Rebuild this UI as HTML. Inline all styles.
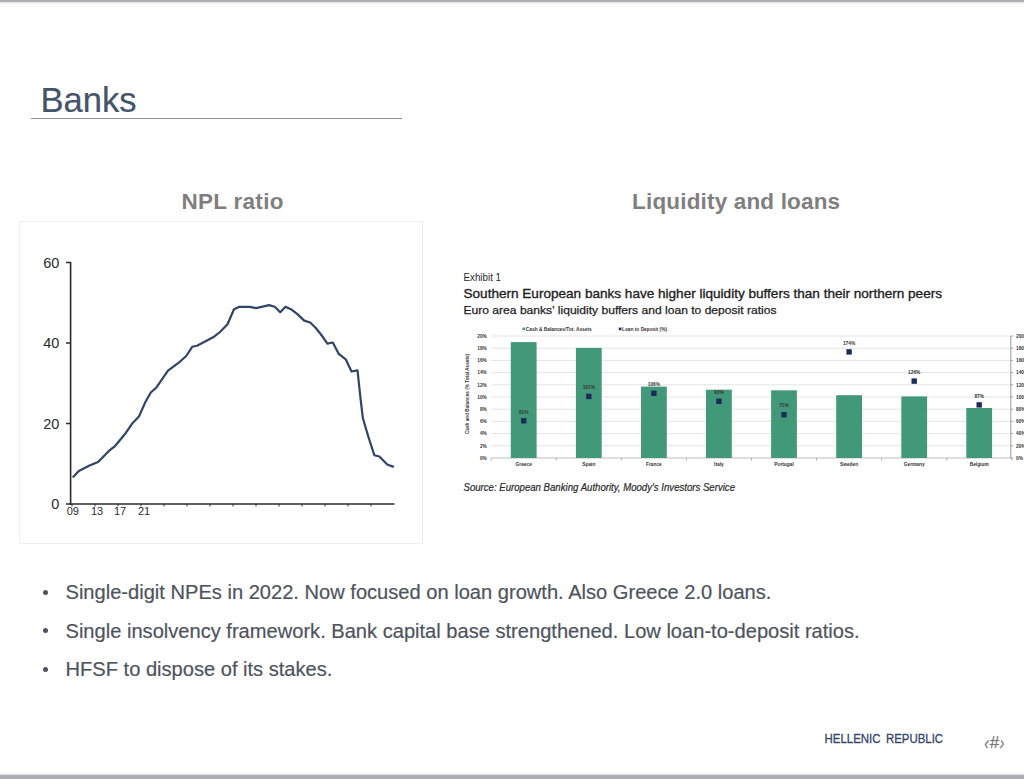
<!DOCTYPE html>
<html lang="en">
<head>
<meta charset="utf-8">
<title>Banks</title>
<style>
  html, body { margin: 0; padding: 0; }
  body {
    width: 1024px; height: 779px; overflow: hidden; position: relative;
    background: #ffffff;
    font-family: "Liberation Sans", sans-serif;
  }
  .abs { position: absolute; white-space: nowrap; }
  .topbar { left: 0; top: 0; width: 1024px; height: 4px; background: linear-gradient(#adaeb3 0, #aeafb4 35%, #e4e4e7 65%, #ffffff 100%); }
  .botbar { left: 0; top: 775px; width: 1024px; height: 4px; background: #adaeb3; }
  .botbar2 { left: 0; top: 773px; width: 1024px; height: 2px; background: linear-gradient(#ffffff, #d5d6da); }

  .title { left: 40.4px; top: 80px; font-size: 34.6px; line-height: 40px; color: #44546a; -webkit-text-stroke: 0.2px #44546a; }
  .rule { left: 31.4px; top: 117.9px; width: 370.8px; height: 1.6px; background: #878b94; }

  .h2 { font-weight: bold; font-size: 22.5px; letter-spacing: 0.3px; line-height: 26px; color: #7f7f7f; text-align: center; }
  .h2a { left: 132.6px; top: 189.4px; width: 200px; }
  .h2b { left: 586.2px; top: 189.4px; width: 300px; letter-spacing: 0.17px; }

  .panel { left: 19px; top: 221px; width: 404px; height: 323px; border: 1px solid #eeeeee; box-sizing: border-box; }

  .bul { left: 65.5px; font-size: 20.1px; line-height: 24px; color: #4e545d; -webkit-text-stroke: 0.2px #4e545d; }
  .dot { left: 42.7px; width: 5px; height: 5px; border-radius: 50%; background: #4e545d; }


  svg { position: absolute; left: 0; top: 0; }
  svg text { font-family: "Liberation Sans", sans-serif; }
</style>
</head>
<body>
  <div class="abs topbar"></div>
  <div class="abs botbar2"></div><div class="abs botbar"></div>

  <div class="abs title">Banks</div>
  <div class="abs rule"></div>

  <div class="abs h2 h2a">NPL ratio</div>
  <div class="abs h2 h2b">Liquidity and loans</div>

  <div class="abs panel"></div>

  <svg id="charts" width="1024" height="779" viewBox="0 0 1024 779">
    <!-- NPL chart -->
    <g id="npl">
      <g stroke="#2b2b2b" stroke-width="1.6" fill="none">
        <path d="M70.6 262 V504.8"/>
        <path d="M69.8 504 H394.5"/>
        <path d="M66 262.5 H70.6 M66 343 H70.6 M66 423.5 H70.6 M66 504 H70.6"/>
      </g>
      <g stroke="#2b2b2b" stroke-width="1" fill="none">
        <path d="M72 504v2.4 M95 504v2.4 M118 504v2.4 M141 504v2.4 M164 504v2.4 M187 504v2.4 M210 504v2.4 M233 504v2.4 M256 504v2.4 M279 504v2.4 M302 504v2.4 M325 504v2.4 M348 504v2.4 M371 504v2.4"/>
      </g>
      <g font-size="14.5" fill="#2b2b2b" text-anchor="end">
        <text x="59.3" y="267.8">60</text>
        <text x="59.3" y="348.3">40</text>
        <text x="59.3" y="428.8">20</text>
        <text x="59.3" y="509.3">0</text>
      </g>
      <g font-size="11" fill="#2b2b2b" text-anchor="middle">
        <text x="72.8" y="514.8">09</text>
        <text x="97" y="514.8">13</text>
        <text x="120" y="514.8">17</text>
        <text x="144" y="514.8">21</text>
      </g>
      <polyline fill="none" stroke="#2f4567" stroke-width="2.2" stroke-linejoin="round" stroke-linecap="round"
        points="73.4,476.7 78.8,470.9 89.5,465.5 98.1,461.9 108.9,450.9 115.3,445.8 126,432.7 132.5,423.2 138.9,416.6 145.4,402 150.8,392.5 156.1,387.8 168,370.6 179.8,361.8 186.2,356 192.2,346.8 197,345.7 214.1,336.7 220,332 227.5,324.2 234,309.2 239.3,306.8 250,306.8 256.1,308.1 269,305.1 274.8,306.8 280.2,312.2 285.5,306.8 290.9,309.2 297.4,314.1 304.2,320.6 310.2,322.5 315.6,327.7 321,334.5 327.4,343.6 332.8,342.5 338.8,353.9 345.7,359.3 351.5,371.5 357.5,370.4 360.7,400 362.9,418.3 368.3,436.5 374.3,455.2 379.4,456.5 387.2,464.5 393,466.6"/>
    </g>
    <!-- Liquidity chart -->
    <g id="liq">
      <path d="M491.2 445.8 H1012 M491.2 433.6 H1012 M491.2 421.4 H1012 M491.2 409.2 H1012 M491.2 397.0 H1012 M491.2 384.8 H1012 M491.2 372.6 H1012 M491.2 360.4 H1012 M491.2 348.2 H1012 M491.2 336.0 H1012" stroke="#e4e4e4" stroke-width="1" fill="none"/>
      <path d="M491.2 458.0 H1012" stroke="#bdbdbd" stroke-width="1" fill="none"/>
      <path d="M1010.8 336.0 V458.0" stroke="#9a9a9a" stroke-width="1" fill="none"/>
      <path d="M1010.8 458.0 h2.5 M1010.8 445.8 h2.5 M1010.8 433.6 h2.5 M1010.8 421.4 h2.5 M1010.8 409.2 h2.5 M1010.8 397.0 h2.5 M1010.8 384.8 h2.5 M1010.8 372.6 h2.5 M1010.8 360.4 h2.5 M1010.8 348.2 h2.5 M1010.8 336.0 h2.5" stroke="#9a9a9a" stroke-width="0.8" fill="none"/>
      <path d="M491.2 458.0 v2.5 M556.3 458.0 v2.5 M621.3 458.0 v2.5 M686.4 458.0 v2.5 M751.5 458.0 v2.5 M816.5 458.0 v2.5 M881.6 458.0 v2.5 M946.7 458.0 v2.5 M1011.8 458.0 v2.5" stroke="#9a9a9a" stroke-width="0.8" fill="none"/>
      <rect x="510.8" y="342.1" width="25.8" height="115.9" fill="#42997a"/>
      <rect x="575.9" y="347.9" width="25.8" height="110.1" fill="#42997a"/>
      <rect x="641.0" y="386.6" width="25.8" height="71.4" fill="#42997a"/>
      <rect x="706.0" y="389.7" width="25.8" height="68.3" fill="#42997a"/>
      <rect x="771.1" y="390.3" width="25.8" height="67.7" fill="#42997a"/>
      <rect x="836.2" y="395.2" width="25.8" height="62.8" fill="#42997a"/>
      <rect x="901.3" y="396.4" width="25.8" height="61.6" fill="#42997a"/>
      <rect x="966.3" y="408.0" width="25.8" height="50.0" fill="#42997a"/>
      <rect x="521.0" y="418.1" width="5.4" height="5.4" fill="#1c2c5a"/>
      <rect x="586.1" y="393.7" width="5.4" height="5.4" fill="#1c2c5a"/>
      <rect x="651.2" y="390.6" width="5.4" height="5.4" fill="#1c2c5a"/>
      <rect x="716.2" y="398.6" width="5.4" height="5.4" fill="#1c2c5a"/>
      <rect x="781.3" y="412.0" width="5.4" height="5.4" fill="#1c2c5a"/>
      <rect x="846.4" y="349.2" width="5.4" height="5.4" fill="#1c2c5a"/>
      <rect x="911.5" y="378.4" width="5.4" height="5.4" fill="#1c2c5a"/>
      <rect x="976.5" y="402.2" width="5.4" height="5.4" fill="#1c2c5a"/>
      <g font-size="4.8" fill="#333" text-anchor="middle" font-weight="bold">
        <text x="523.7" y="413.5">61%</text>
        <text x="588.8" y="389.1">101%</text>
        <text x="653.9" y="386.0">106%</text>
        <text x="718.9" y="394.0">93%</text>
        <text x="784.0" y="407.4">71%</text>
        <text x="849.1" y="344.6">174%</text>
        <text x="914.2" y="373.8">126%</text>
        <text x="979.2" y="397.6">87%</text>
      </g>
      <g font-size="4.8" fill="#333" text-anchor="end" font-weight="bold">
        <text x="486.9" y="459.7">0%</text>
        <text x="486.9" y="447.5">2%</text>
        <text x="486.9" y="435.3">4%</text>
        <text x="486.9" y="423.1">6%</text>
        <text x="486.9" y="410.9">8%</text>
        <text x="486.9" y="398.7">10%</text>
        <text x="486.9" y="386.5">12%</text>
        <text x="486.9" y="374.3">14%</text>
        <text x="486.9" y="362.1">16%</text>
        <text x="486.9" y="349.9">18%</text>
        <text x="486.9" y="337.7">20%</text>
      </g>
      <g font-size="4.8" fill="#333" text-anchor="start" font-weight="bold">
        <text x="1016" y="459.7">0%</text>
        <text x="1016" y="447.5">20%</text>
        <text x="1016" y="435.3">40%</text>
        <text x="1016" y="423.1">60%</text>
        <text x="1016" y="410.9">80%</text>
        <text x="1016" y="398.7">100%</text>
        <text x="1016" y="386.5">120%</text>
        <text x="1016" y="374.3">140%</text>
        <text x="1016" y="362.1">160%</text>
        <text x="1016" y="349.9">180%</text>
        <text x="1016" y="337.7">200%</text>
      </g>
      <g font-size="4.8" fill="#333" text-anchor="middle" font-weight="bold">
        <text x="523.7" y="466">Greece</text>
        <text x="588.8" y="466">Spain</text>
        <text x="653.9" y="466">France</text>
        <text x="718.9" y="466">Italy</text>
        <text x="784.0" y="466">Portugal</text>
        <text x="849.1" y="466">Sweden</text>
        <text x="914.2" y="466">Germany</text>
        <text x="979.2" y="466">Belgium</text>
      </g>
      <text transform="translate(468.5 394) rotate(-90)" font-size="4.7" fill="#333" text-anchor="middle" font-weight="bold">Cash and Balances (% Total Assets)</text>
      <rect x="522.5" y="327.6" width="2.6" height="2.6" fill="#42997a"/>
      <text x="525.8" y="330.6" font-size="4.8" fill="#333" font-weight="bold" textLength="66" lengthAdjust="spacingAndGlyphs">Cash &amp; Balances/Tot. Assets</text>
      <rect x="618.8" y="327.6" width="2.6" height="2.6" fill="#1c2c5a"/>
      <text x="622" y="330.6" font-size="4.8" fill="#333" font-weight="bold" textLength="45" lengthAdjust="spacingAndGlyphs">Loan to Deposit (%)</text>
      <text x="463.5" y="280.6" font-size="10" fill="#2a2a2a" textLength="37.5" lengthAdjust="spacingAndGlyphs">Exhibit 1</text>
      <text x="463.5" y="297.5" font-size="13.2" fill="#1e1e1e" stroke="#1e1e1e" stroke-width="0.35" textLength="478.5" lengthAdjust="spacingAndGlyphs">Southern European banks have higher liquidity buffers than their northern peers</text>
      <text x="463.5" y="313.8" font-size="11.3" fill="#1e1e1e" stroke="#1e1e1e" stroke-width="0.25" textLength="313" lengthAdjust="spacingAndGlyphs">Euro area banks' liquidity buffers and loan to deposit ratios</text>
      <text x="463.5" y="491.2" font-size="10.3" fill="#2a2a2a" stroke="#2a2a2a" stroke-width="0.2" font-style="italic" textLength="271.5" lengthAdjust="spacingAndGlyphs">Source: European Banking Authority, Moody's Investors Service</text>
    </g>
    <!-- footer -->
    <text x="824.6" y="742.7" font-size="12.3" fill="#33456a" stroke="#33456a" stroke-width="0.3" word-spacing="2.5" textLength="118.5" lengthAdjust="spacingAndGlyphs">HELLENIC REPUBLIC</text>
    <g font-size="17" font-style="italic" fill="#757678" stroke="#757678" stroke-width="0.25">
      <text x="984.3" y="748.9" font-size="18" textLength="4.6" lengthAdjust="spacingAndGlyphs">&#8249;</text>
      <text x="989.4" y="748.1">#</text>
      <text x="999.7" y="748.9" font-size="18" textLength="4.6" lengthAdjust="spacingAndGlyphs">&#8250;</text>
    </g>
  </svg>

  <div class="abs dot" style="top:589.6px"></div>
  <div class="abs bul" style="top:580px">Single-digit NPEs in 2022. Now focused on loan growth. Also Greece 2.0 loans.</div>
  <div class="abs dot" style="top:628.4px"></div>
  <div class="abs bul" style="top:619px">Single insolvency framework. Bank capital base strengthened. Low loan-to-deposit ratios.</div>
  <div class="abs dot" style="top:667.2px"></div>
  <div class="abs bul" style="top:657px">HFSF to dispose of its stakes.</div>

</body>
</html>
